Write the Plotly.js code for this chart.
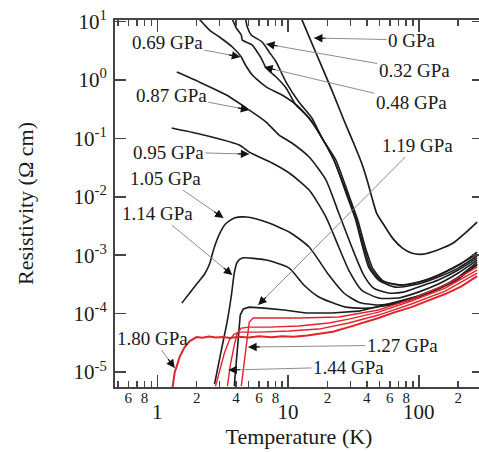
<!DOCTYPE html>
<html><head><meta charset="utf-8">
<script src="https://cdn.plot.ly/plotly-3.0.1.min.js"></script>
<style>html,body{margin:0;padding:0;overflow:hidden;background:#fff;width:479px;height:452px}</style>
</head><body><div id="chart" style="width:485px;height:452px"></div>
<script>
// ---------------- data (Temperature in K, Resistivity in Ohm cm) ----------------
const T_0GPa = [12.3, 16.6, 21.6, 26.7, 31.7, 36.5, 40.6, 44.3, 47.5, 54.7, 62.9, 75.0, 87.7, 108, 141, 183, 226, 279];
const R_0GPa = [13, 2.67, 0.671, 0.206, 0.0832, 0.0378, 0.0179, 0.00879, 0.00526, 0.00315, 0.00196, 0.00132, 0.00109, 0.00104, 0.00124, 0.00161, 0.00239, 0.00369];

const T_032 = [4.71, 4.88, 5.23, 6.34, 7.17, 8.11, 9.65, 12.1, 15.2, 18.2, 23.2, 29.1, 34.1, 38.5, 44.3, 53.7, 76.2, 108, 154, 207, 279];
const R_032 = [11.9, 8.05, 5.87, 4.46, 3.01, 2.03, 0.920, 0.419, 0.223, 0.101, 0.0426, 0.0107, 0.00399, 0.00149, 0.000601, 0.000360, 0.000308, 0.000360, 0.000494, 0.000700, 0.00113];

const T_048 = [3.69, 4.02, 4.39, 4.47, 5.33, 5.81, 6.23, 6.80, 8.11, 9.65, 11.5, 14.5, 18.2, 22.4, 28.1, 32.9, 37.2, 42.8, 50.9, 69.8, 99.1, 141, 200, 279];
const R_048 = [11.9, 7.74, 5.87, 4.82, 3.96, 3.01, 2.37, 1.60, 1.122, 0.727, 0.371, 0.223, 0.101, 0.0426, 0.0116, 0.00432, 0.00161, 0.000601, 0.000375, 0.000308, 0.000346, 0.000456, 0.000677, 0.00104];

const T_069 = [2.03, 2.51, 2.99, 3.75, 4.39, 4.63, 5.33, 6.80, 9.00, 12.1, 15.2, 18.2, 22.4, 28.1, 32.9, 36.5, 41.3, 49.2, 66.3, 99.1, 141, 200, 279];
const R_069 = [11.9, 7.14, 5.43, 3.66, 2.47, 1.95, 1.213, 0.759, 0.551, 0.343, 0.190, 0.101, 0.0426, 0.0107, 0.00399, 0.00161, 0.000625, 0.000375, 0.000284, 0.000320, 0.000422, 0.000601, 0.000966];

const T_087 = [1.41, 2.10, 3.38, 5.05, 6.80, 8.55, 10.7, 14.5, 19.5, 24.4, 30.7, 37.9, 45.1, 58.6, 76.2, 99.1, 141, 200, 279];
const R_087 = [1.365, 0.920, 0.551, 0.305, 0.190, 0.114, 0.0832, 0.0478, 0.0193, 0.00526, 0.00138, 0.000456, 0.000273, 0.000225, 0.000233, 0.000284, 0.000375, 0.000556, 0.000892];

const T_095 = [1.29, 2.10, 2.99, 4.24, 5.05, 7.56, 10.2, 14.5, 19.5, 24.4, 29.1, 36.5, 49.2, 69.8, 99.1, 141, 200, 279];
const R_095 = [0.150, 0.1186, 0.0973, 0.0768, 0.0582, 0.0378, 0.0255, 0.0130, 0.00449, 0.00138, 0.000556, 0.000253, 0.000185, 0.000185, 0.000233, 0.000320, 0.000494, 0.000824];

const T_105 = [1.54, 1.77, 2.03, 2.30, 2.51, 2.69, 2.94, 3.32, 3.88, 4.80, 6.80, 10.2, 14.5, 20.5, 26.7, 34.7, 49.2, 69.8, 99.1, 141, 200, 279];
const R_105 = [0.000151, 0.000225, 0.000333, 0.000475, 0.000704, 0.00123, 0.00212, 0.00341, 0.00432, 0.00449, 0.00369, 0.00249, 0.00138, 0.000456, 0.000225, 0.000157, 0.000140, 0.000157, 0.000200, 0.000273, 0.000422, 0.000762];

const T_114 = [2.74, 3.09, 3.44, 3.69, 3.88, 4.09, 4.47, 6.80, 10.2, 13.2, 17.2, 27.6, 41.3, 69.8, 99.1, 141, 200, 279];
const R_114 = [0.00000621, 0.0000237, 0.0000775, 0.000208, 0.000494, 0.000762, 0.000892, 0.000824, 0.000601, 0.000308, 0.000192, 0.000129, 0.000124, 0.000151, 0.000192, 0.000263, 0.000390, 0.000703];

const T_119 = [3.88, 4.09, 4.31, 4.55, 5.05, 6.57, 9.32, 13.7, 21.6, 34.7, 58.6, 99.1, 168, 279];
const R_119 = [0.00000574, 0.0000237, 0.0000944, 0.000120, 0.000129, 0.000124, 0.000115, 0.000102, 0.000102, 0.000110, 0.000146, 0.000200, 0.000320, 0.000677];

const T_127 = [4.39, 4.63, 4.88, 5.05, 5.42, 7.17, 12.1, 24.4, 49.2, 87.7, 159, 279];
const R_127 = [0.00000574, 0.0000160, 0.0000428, 0.0000716, 0.0000838, 0.0000838, 0.0000838, 0.0000872, 0.000115, 0.000177, 0.000308, 0.000625];

const T_144 = [3.44, 3.62, 3.88, 4.09, 4.39, 5.05, 7.17, 12.1, 20.5, 29.1, 49.2, 87.7, 159, 279];
const R_144 = [0.00000574, 0.0000131, 0.0000289, 0.0000464, 0.0000565, 0.0000587, 0.0000587, 0.0000611, 0.0000689, 0.0000805, 0.000106, 0.000164, 0.000273, 0.000556];

const T_redC = [2.79, 2.99, 3.26, 3.56, 3.88, 4.24, 6.02, 10.2, 17.2, 29.1, 49.2, 87.7, 159, 279];
const R_redC = [0.00000574, 0.0000108, 0.0000211, 0.0000352, 0.0000446, 0.0000482, 0.0000482, 0.0000502, 0.0000543, 0.0000689, 0.0000944, 0.000146, 0.000243, 0.000494];

const T_180 = [1.31, 1.335, 1.36, 1.41, 1.48, 1.62, 1.77, 2.00, 2.2, 2.5, 2.8, 3.2, 3.6, 4.2, 5.0, 6.0, 7.5, 9.0, 11, 14, 17.2, 22, 29.1, 38, 49.2, 65, 87.7, 120, 159, 210, 279];
const R_180 = [0.0000055, 0.00000785, 0.00000996, 0.0000126, 0.0000180, 0.0000267, 0.0000338, 0.0000396, 0.0000385, 0.0000405, 0.0000390, 0.0000398, 0.0000382, 0.0000402, 0.0000390, 0.0000408, 0.0000395, 0.0000410, 0.0000400, 0.0000420, 0.0000446, 0.0000490, 0.0000587, 0.0000700, 0.0000838, 0.000105, 0.000129, 0.000170, 0.000216, 0.000290, 0.000439];

// tick labels
const yTickVals = [1e-5, 1e-4, 1e-3, 1e-2, 1e-1, 1, 10];
const yTickText = ['10<sup>-5</sup>', '10<sup>-4</sup>', '10<sup>-3</sup>', '10<sup>-2</sup>', '10<sup>-1</sup>', '10<sup>0</sup>', '10<sup>1</sup>'];
const xMajorVals = [1, 10, 100];
const xMajorText = ['1', '10', '100'];
const xMinorTickVals = [0.5, 0.6, 0.7, 0.8, 0.9, 2, 3, 4, 5, 6, 7, 8, 9, 20, 30, 40, 50, 60, 70, 80, 90, 200];
const xMinorLabelVals = [0.6, 0.8, 2, 4, 6, 8, 20, 40, 60, 80, 200];
const xMinorLabelText = ['6', '8', '2', '4', '6', '8', '2', '4', '6', '8', '2'];

// ---------------- plotting ----------------
const FONT = 'Liberation Serif, Times New Roman, serif';
const BLACK = '#1c1c1c';
const RED = '#e0232c';
const traces = [];
function curve(T, R, color, width, shape) {
  traces.push({x: T, y: R, type: 'scatter', mode: 'lines', hoverinfo: 'skip', showlegend: false,
    line: {color: color, width: width, shape: shape, smoothing: 0.6}});
}
curve(T_0GPa, R_0GPa, BLACK, 1.7, 'spline');
curve(T_032, R_032, BLACK, 1.6, 'spline');
curve(T_048, R_048, BLACK, 1.6, 'spline');
curve(T_069, R_069, BLACK, 1.6, 'spline');
curve(T_087, R_087, BLACK, 1.6, 'spline');
curve(T_095, R_095, BLACK, 1.6, 'spline');
curve(T_105, R_105, BLACK, 1.6, 'spline');
curve(T_114, R_114, BLACK, 1.6, 'spline');
curve(T_119, R_119, BLACK, 1.6, 'linear');
curve(T_redC, R_redC, RED, 1.4, 'linear');
curve(T_144, R_144, RED, 1.4, 'linear');
curve(T_127, R_127, RED, 1.4, 'linear');
curve(T_180, R_180, RED, 2.0, 'linear');

// label annotations: tip in data units, text offset in pixels
const labels = [
  {text: '0 GPa',    T: 15.8, R: 5.22,     dx: 98,   dy: 2},
  {text: '0.32 GPa', T: 6.80, R: 4.12,     dx: 148,  dy: 26},
  {text: '0.48 GPa', T: 6.57, R: 1.66,     dx: 147,  dy: 35},
  {text: '0.69 GPa', T: 4.31, R: 2.47,     dx: -73,  dy: -14},
  {text: '0.87 GPa', T: 5.05, R: 0.305,    dx: -78,  dy: -15},
  {text: '0.95 GPa', T: 5.05, R: 0.0538,   dx: -81,  dy: -2},
  {text: '1.05 GPa', T: 3.21, R: 0.00432,  dx: -58,  dy: -40},
  {text: '1.14 GPa', T: 3.75, R: 0.000456, dx: -75,  dy: -62},
  {text: '1.19 GPa', T: 5.91, R: 0.000140, dx: 159,  dy: -160},
  {text: '1.27 GPa', T: 4.96, R: 0.0000267,dx: 154,  dy: -2},
  {text: '1.44 GPa', T: 3.50, R: 0.0000108,dx: 120,  dy: -3},
  {text: '1.80 GPa', T: 1.36, R: 0.0000117,dx: -22,  dy: -30}
];
const annotations = [];
labels.forEach(function (l) {
  const x = Math.log10(l.T), y = Math.log10(l.R);
  annotations.push({x: x, y: y, xref: 'x', yref: 'y', text: l.text, showarrow: true,
    ax: l.dx, ay: l.dy, axref: 'pixel', ayref: 'pixel', arrowhead: 0, arrowwidth: 1,
    arrowcolor: '#8c8c8c', font: {family: FONT, size: 19, color: '#1a1a1a'}, borderpad: 1});
  const len = Math.sqrt(l.dx * l.dx + l.dy * l.dy);
  annotations.push({x: x, y: y, xref: 'x', yref: 'y', text: '', showarrow: true,
    ax: l.dx / len * 13, ay: l.dy / len * 13, axref: 'pixel', ayref: 'pixel',
    arrowhead: 2, arrowsize: 1.4, arrowwidth: 1.2, arrowcolor: '#111', font: {size: 1}});
});

const axisCommon = {showgrid: false, zeroline: false, showline: true, linecolor: '#444', linewidth: 2,
  ticks: 'inside', tickcolor: '#444', tickwidth: 1.5, mirror: 'ticks'};

const layout = {
  width: 485, height: 452,
  margin: {l: 115, r: 0, t: 20, b: 65},
  paper_bgcolor: '#fff', plot_bgcolor: '#fff',
  font: {family: FONT, color: '#1a1a1a'},
  showlegend: false,
  xaxis: Object.assign({}, axisCommon, {
    type: 'log', range: [-0.3232, 2.4905], tickmode: 'array', tickvals: xMajorVals, ticktext: xMajorText,
    ticklen: 12, tickfont: {family: FONT, size: 21, color: '#1a1a1a'}, ticklabelstandoff: 5,
    minor: {tickmode: 'array', tickvals: xMinorTickVals, ticklen: 6, ticks: 'inside', tickcolor: '#444', tickwidth: 1.5},
    automargin: true,
    title: {text: 'Temperature (K)', font: {family: FONT, size: 22, color: '#1a1a1a'}, standoff: 3}
  }),
  xaxis2: {
    type: 'log', range: [-0.3232, 2.4905], overlaying: 'x', anchor: 'y', side: 'bottom',
    showgrid: false, zeroline: false, showline: false, ticks: '', tickmode: 'array',
    tickvals: xMinorLabelVals, ticktext: xMinorLabelText, ticklabelstandoff: 0,
    tickfont: {family: FONT, size: 15, color: '#1a1a1a'}, fixedrange: true
  },
  yaxis: Object.assign({}, axisCommon, {
    type: 'log', range: [-5.257, 1.026], tickmode: 'array', tickvals: yTickVals, ticktext: yTickText,
    ticklen: 11, tickfont: {family: FONT, size: 21, color: '#1a1a1a'}, ticklabelstandoff: 2,
    automargin: true,
    title: {text: 'Resistivity (\u03A9 cm)', font: {family: FONT, size: 22, color: '#1a1a1a'}, standoff: 34}
  }),
  annotations: annotations
};
// an invisible point so that xaxis2 (the minor tick labels) is drawn
traces.push({x: [1], y: [1], xaxis: 'x2', yaxis: 'y', type: 'scatter', mode: 'markers',
  marker: {opacity: 0}, hoverinfo: 'skip', showlegend: false});

Plotly.newPlot('chart', traces, layout, {staticPlot: true, displayModeBar: false});
</script></body></html>
